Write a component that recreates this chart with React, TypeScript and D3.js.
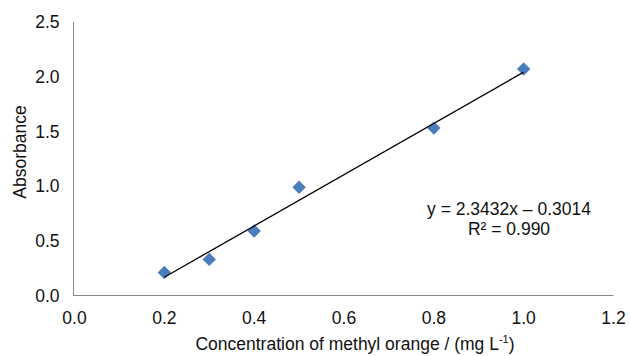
import React from "react";
import * as d3 from "d3";

const concentrations = [0.2, 0.3, 0.4, 0.5, 0.8, 1.0];
const absorbances = [0.21, 0.33, 0.59, 0.99, 1.53, 2.07];
const xTicks = [0, 0.2, 0.4, 0.6, 0.8, 1.0, 1.2];
const yTicks = [0, 0.5, 1.0, 1.5, 2.0, 2.5];
const slope = 2.3432;
const intercept = -0.3014;
const fitRange = [0.2, 1.0];

const W = 630;
const H = 356;
const FONT = "'Liberation Sans', Arial, Helvetica, sans-serif";
const FS = 17.5;

export default function App() {
  const x = d3.scaleLinear().domain([0, 1.2]).range([74.5, 613.5]);
  const y = d3.scaleLinear().domain([0, 2.5]).range([295.5, 22]);
  const line = d3
    .line<number>()
    .x((d) => x(d))
    .y((d) => y(slope * d + intercept));
  const s = 6.7;
  const x0 = 73.5;
  return (
    <svg
      width={W}
      height={H}
      style={{ position: "absolute", left: 0, top: 0, background: "#fff" }}
      fontFamily={FONT}
    >
      <line x1={x0} x2={x0} y1={y(2.5)} y2={y(0)} stroke="#8a8a8a" strokeWidth={1} />
      <line x1={x0} x2={x(1.2)} y1={y(0)} y2={y(0)} stroke="#8a8a8a" strokeWidth={1} />
      {yTicks.map((t) => (
        <text key={"y" + t} x={x0 - 14} y={y(t)} dy="0.35em" textAnchor="end" fontSize={FS} fill="#111">
          {t.toFixed(1)}
        </text>
      ))}
      {xTicks.map((t) => (
        <text key={"x" + t} x={x(t)} y={y(0) + 28} textAnchor="middle" fontSize={FS} fill="#111">
          {t.toFixed(1)}
        </text>
      ))}
      <text
        transform={`translate(26,152) rotate(-90)`}
        textAnchor="middle"
        fontSize={FS}
        fill="#111"
      >
        Absorbance
      </text>
      <text x={355} y={350} textAnchor="middle" fontSize={FS} fill="#111">
        Concentration of methyl orange / (mg L
        <tspan dy={-7} fontSize={11}>-1</tspan>
        <tspan dy={7}>)</tspan>
      </text>
      {concentrations.map((c, i) => (
        <path
          key={"p" + i}
          d={`M${x(c)},${y(absorbances[i]) - s}L${x(c) + s},${y(absorbances[i])}L${x(c)},${y(absorbances[i]) + s}L${x(c) - s},${y(absorbances[i])}Z`}
          fill="#4a7ebb"
        />
      ))}
      <path d={line(fitRange) || ""} fill="none" stroke="#000" strokeWidth={1.3} />
      <text x={509} y={215} textAnchor="middle" fontSize={FS} fill="#111">
        y = 2.3432x – 0.3014
      </text>
      <text x={509} y={235} textAnchor="middle" fontSize={FS} fill="#111">
        R² = 0.990
      </text>
    </svg>
  );
}
